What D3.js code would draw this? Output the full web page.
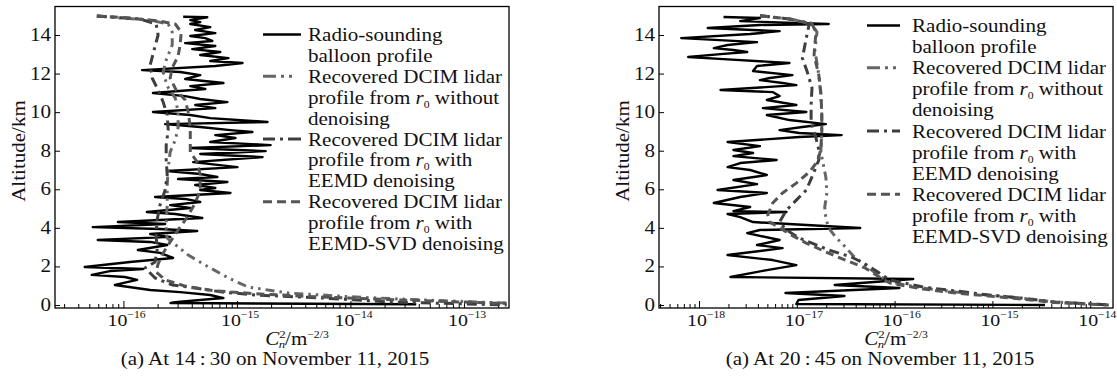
<!DOCTYPE html>
<html>
<head>
<meta charset="utf-8">
<script src="https://cdn.jsdelivr.net/npm/d3@7"></script>
<style>
  body { margin: 0; background: #fff; }
  svg { display: block; font-family: "Liberation Serif", "Times New Roman", serif; }
</style>
</head>
<body>
<div id="chart"></div>
<script>
// [altitude km, Cn2 m^-2/3]

// panel (a) 14:30
const balloonA = [[14.95,3.36e-16],[14.92,5.48e-16],[14.77,3.88e-16],[14.67,4.75e-16],[14.57,3.88e-16],[14.41,5.82e-16],[14.26,4.29e-16],[14.10,6.45e-16],[13.95,3.88e-16],[13.84,5.26e-16],[13.69,6.07e-16],[13.58,3.50e-16],[13.43,6.45e-16],[13.27,4.04e-16],[13.12,7.14e-16],[12.96,4.75e-16],[12.80,8.41e-16],[12.65,5.82e-16],[12.55,1.12e-15],[12.39,6.45e-16],[12.18,1.46e-16],[12.08,3.16e-16],[11.92,4.75e-16],[11.72,3.50e-16],[11.51,7.60e-16],[11.35,3.88e-16],[11.20,5.26e-16],[10.99,1.82e-16],[10.83,3.50e-16],[10.68,4.75e-16],[10.52,8.24e-16],[10.37,4.29e-16],[10.21,6.45e-16],[10.01,1.82e-16],[9.85,3.88e-16],[9.69,5.82e-16],[9.49,1.86e-15],[9.38,2.33e-16],[9.23,4.75e-16],[9.07,8.76e-16],[8.97,1.37e-15],[8.81,6.45e-16],[8.66,9.70e-16],[8.45,5.82e-16],[8.29,1.98e-15],[8.14,3.88e-16],[7.98,1.79e-15],[7.83,4.75e-16],[7.67,1.68e-15],[7.41,4.12e-16],[7.15,1.01e-15],[6.95,2.43e-16],[6.79,4.75e-16],[6.64,6.72e-16],[6.53,3.03e-16],[6.38,8.24e-16],[6.22,4.29e-16],[6.07,6.45e-16],[5.96,4.75e-16],[5.81,8.76e-16],[5.60,1.90e-16],[5.50,3.50e-16],[5.34,4.75e-16],[5.18,2.58e-16],[5.03,3.88e-16],[4.82,1.61e-16],[4.72,2.86e-16],[4.51,4.95e-16],[4.30,8.94e-17],[4.20,2.33e-16],[4.04,5.37e-17],[3.94,2.10e-16],[3.84,4.47e-16],[3.68,1.72e-16],[3.53,2.58e-16],[3.37,5.94e-17],[3.27,1.72e-16],[3.11,2.43e-16],[2.85,1.34e-16],[2.70,2.10e-16],[2.44,2.74e-16],[2.23,1.14e-16],[1.97,4.56e-17],[1.87,1.49e-16],[1.76,7.60e-17],[1.56,5.26e-17],[1.45,1.03e-16],[1.30,1.32e-16],[1.04,8.41e-17],[0.78,1.72e-16],[0.67,3.16e-16],[0.52,5.82e-16],[0.36,7.60e-16],[0.16,3.00e-16],[0.10,2.60e-16],[0.04,3.80e-14]];
const rawA = [[14.98,5.83e-17],[14.77,1.72e-16],[14.57,2.48e-16],[14.15,2.69e-16],[13.48,2.69e-16],[12.70,2.38e-16],[12.08,2.24e-16],[11.35,2.43e-16],[10.73,2.86e-16],[10.01,3.03e-16],[9.18,3.03e-16],[8.55,2.86e-16],[7.93,2.58e-16],[7.10,2.48e-16],[6.22,2.43e-16],[5.18,2.43e-16],[4.30,2.38e-16],[3.73,2.38e-16],[3.47,2.43e-16],[2.59,3.72e-16],[2.07,5.26e-16],[1.40,8.41e-16],[0.93,1.26e-15],[0.62,2.86e-15],[0.41,1.12e-14],[0.26,4.39e-14],[0.10,2.38e-13]];
const eemdA = [[14.98,5.83e-17],[14.83,1.40e-16],[14.57,1.94e-16],[14.00,2.02e-16],[13.22,1.86e-16],[12.44,1.72e-16],[11.77,1.79e-16],[11.15,2.02e-16],[10.52,2.24e-16],[9.85,2.43e-16],[9.07,2.48e-16],[8.29,2.38e-16],[7.52,2.38e-16],[6.74,2.43e-16],[5.96,2.33e-16],[5.18,2.10e-16],[4.41,1.98e-16],[3.63,1.94e-16],[2.85,1.98e-16],[2.23,1.90e-16],[1.92,1.55e-16],[1.40,1.90e-16],[1.04,2.69e-16],[0.88,4.29e-16],[0.67,7.44e-16],[0.52,1.46e-15],[0.36,5.71e-15],[0.16,2.19e-14],[0.0,2.38e-13]];
const svdA = [[14.98,5.83e-17],[14.88,1.14e-16],[14.72,2.10e-16],[14.57,2.86e-16],[14.15,3.23e-16],[13.48,3.16e-16],[12.91,3.03e-16],[12.29,2.69e-16],[11.77,2.58e-16],[11.15,2.91e-16],[10.63,3.50e-16],[10.01,3.72e-16],[9.18,3.88e-16],[8.45,3.88e-16],[7.93,3.88e-16],[7.41,4.47e-16],[6.74,4.75e-16],[5.96,4.75e-16],[5.29,4.29e-16],[4.56,3.65e-16],[3.89,3.03e-16],[3.27,2.58e-16],[2.70,2.24e-16],[2.13,2.02e-16],[1.71,1.94e-16],[1.30,2.33e-16],[0.98,3.50e-16],[0.73,6.45e-16],[0.57,1.61e-15],[0.41,5.71e-15],[0.26,2.80e-14],[0.08,2.38e-13]];

// panel (b) 20:45
const balloonB = [[14.93,1.78e-18],[14.88,4.20e-18],[14.72,2.64e-18],[14.57,2.12e-17],[14.52,4.20e-18],[14.36,1.23e-18],[14.20,6.67e-18],[14.05,3.33e-18],[13.84,6.59e-19],[13.63,3.92e-18],[13.48,1.96e-18],[13.32,1.42e-18],[13.22,2.25e-18],[13.12,3.11e-18],[13.01,1.66e-18],[12.86,7.75e-19],[12.75,1.78e-18],[12.55,8.41e-18],[12.39,3.92e-18],[12.13,3.57e-18],[11.92,9.01e-18],[11.77,5.29e-18],[11.66,4.20e-18],[11.51,7.15e-18],[11.40,9.89e-18],[11.15,1.66e-18],[11.04,5.67e-18],[10.83,6.67e-18],[10.63,4.94e-18],[10.37,9.89e-18],[10.21,4.50e-18],[10.01,1.25e-17],[9.85,4.94e-18],[9.59,8.41e-18],[9.38,1.98e-17],[9.23,1.14e-17],[9.07,6.67e-18],[8.92,1.06e-17],[8.81,2.87e-17],[8.71,1.06e-17],[8.45,1.96e-18],[8.24,4.20e-18],[8.04,2.25e-18],[7.88,3.57e-18],[7.72,2.25e-18],[7.52,6.22e-18],[7.36,2.64e-18],[7.15,1.96e-18],[7.00,3.33e-18],[6.74,4.94e-18],[6.48,2.25e-18],[6.27,3.92e-18],[5.96,1.55e-18],[5.81,4.94e-18],[5.60,2.64e-18],[5.29,1.42e-18],[5.08,3.33e-18],[4.87,2.25e-18],[4.82,7.84e-18],[4.72,1.96e-18],[4.56,2.64e-18],[4.30,3.57e-18],[3.99,4.45e-17],[3.89,4.20e-18],[3.73,3.11e-18],[3.37,6.67e-18],[3.11,3.92e-18],[2.95,7.15e-18],[2.59,1.96e-18],[2.33,5.67e-18],[2.07,9.89e-18],[1.81,4.94e-18],[1.45,2.10e-18],[1.35,1.55e-16],[1.04,2.44e-17],[0.88,1.12e-16],[0.62,7.66e-18],[0.47,3.07e-17],[0.26,1.04e-17],[0.05,9.89e-18],[0.0,3.45e-15]];
const rawB = [[15.0,4.20e-18],[14.83,8.41e-18],[14.62,1.40e-17],[14.15,1.61e-17],[13.22,1.53e-17],[11.92,1.68e-17],[10.89,1.76e-17],[9.85,1.80e-17],[8.81,1.80e-17],[7.93,1.76e-17],[6.64,1.98e-17],[5.81,2.03e-17],[5.08,1.93e-17],[4.51,1.98e-17],[3.99,2.12e-17],[3.53,2.49e-17],[3.01,3.14e-17],[2.54,3.78e-17],[2.07,4.99e-17],[1.56,6.74e-17],[1.19,8.91e-17],[0.88,1.95e-16],[0.67,4.20e-16],[0.52,9.02e-16],[0.36,1.98e-15],[0.16,4.25e-15],[0.0,1.55e-14]];
const eemdB = [[15.0,4.20e-18],[14.83,8.41e-18],[14.57,1.34e-17],[13.84,1.25e-17],[12.80,1.14e-17],[12.08,1.28e-17],[11.25,1.43e-17],[10.37,1.40e-17],[9.49,1.40e-17],[8.66,1.57e-17],[8.04,1.68e-17],[7.52,1.68e-17],[6.64,1.43e-17],[5.96,1.25e-17],[5.44,9.89e-18],[4.92,7.84e-18],[4.30,6.67e-18],[3.89,7.84e-18],[3.47,1.06e-17],[3.21,1.43e-17],[2.85,2.12e-17],[2.49,3.61e-17],[2.13,4.99e-17],[1.71,6.74e-17],[1.30,8.91e-17],[0.93,1.95e-16],[0.73,4.20e-16],[0.52,9.02e-16],[0.36,1.98e-15],[0.16,4.25e-15],[0.0,1.55e-14]];
const svdB = [[15.0,4.20e-18],[14.83,8.41e-18],[14.57,1.43e-17],[14.15,1.57e-17],[12.96,1.50e-17],[11.92,1.68e-17],[11.04,1.76e-17],[10.01,1.80e-17],[8.97,1.80e-17],[8.04,1.76e-17],[7.41,1.61e-17],[6.89,1.34e-17],[6.32,9.89e-18],[5.81,7.15e-18],[5.29,5.67e-18],[4.67,5.05e-18],[4.30,5.29e-18],[4.10,6.22e-18],[3.68,8.41e-18],[3.21,1.25e-17],[2.75,1.98e-17],[2.33,3.14e-17],[1.92,4.99e-17],[1.50,6.74e-17],[1.14,8.91e-17],[0.83,1.95e-16],[0.62,4.20e-16],[0.47,9.02e-16],[0.31,1.98e-15],[0.13,4.25e-15],[0.0,1.55e-14]];

const altitudeTicks = [0, 2, 4, 6, 8, 10, 12, 14];
const decadesA = [-16, -15, -14, -13];
const decadesB = [-18, -17, -16, -15, -14];
const captions = ["(a) At 14\u2009:\u200930 on November 11, 2015", "(a) At 20\u2009:\u200945 on November 11, 2015"];
const legendLabels = [
  ["Radio-sounding", "balloon profile"],
  ["Recovered DCIM lidar", "profile from {r0} without", "denoising"],
  ["Recovered DCIM lidar", "profile from {r0} with", "EEMD denoising"],
  ["Recovered DCIM lidar", "profile from {r0} with", "EEMD-SVD denoising"]
];

const W = 1117, H = 385;
const SX = 1.17; // the serif face in the figure is wider than Times
const styles = [
  {color: "#000", width: 2.4, dash: null, legendDash: null},
  {color: "#666", width: 3, dash: "9,5,2.5,5,2.5,5", legendDash: "13,5,3,5,3,20"},
  {color: "#3e3e3e", width: 3, dash: "10,5,3,5", legendDash: "12,5,3,5,14"},
  {color: "#555", width: 3, dash: "8,5", legendDash: "9,5"}
];

const panels = [
  {box: [55, 6.5, 509, 308], logDomain: [-16.603, -12.603], decades: decadesA, labelOffset: -16,
   series: [balloonA, rawA, eemdA, svdA], caption: captions[0],
   legend: {x0: 263, x1: 301, tx: 308, y0: 41, dy: 20.9},
   xLabelX: 297, captionX: 275, yLabelX: 25},
  {box: [659, 6.5, 1113, 308], logDomain: [-18.409, -13.767], decades: decadesB, labelOffset: -12,
   series: [balloonB, rawB, eemdB, svdB], caption: captions[1],
   legend: {x0: 867, x1: 900, tx: 912, y0: 32, dy: 21.1},
   xLabelX: 896, captionX: 880, yLabelX: 629}
];

const svg = d3.select("#chart").append("svg")
  .attr("width", W)
  .attr("height", H);

// text in a horizontally stretched group
function addText(parent, x, y, parts, opt = {}) {
  const g = parent.append("g")
    .attr("transform", `translate(${x},${y})` + (opt.rotate ? ` rotate(${opt.rotate})` : "") + ` scale(${SX},1)`);
  const t = g.append("text")
    .attr("text-anchor", opt.anchor || "start")
    .attr("font-size", opt.size || 18)
    .attr("fill", "#111");
  parts.forEach(p => {
    if (typeof p === "string") p = {t: p};
    const s = t.append("tspan").text(p.t);
    if (p.size) s.attr("font-size", p.size);
    if (p.dy) s.attr("dy", p.dy);
    if (p.dx) s.attr("dx", p.dx);
    if (p.italic) s.attr("font-style", "italic");
  });
  return t;
}

function legendParts(line) {
  if (line.indexOf("{r0}") < 0) return [line];
  const [a, b] = line.split("{r0}");
  return [a, {t: "r", italic: true}, {t: "0", size: 10, dy: 4}, {t: b, dy: -4}];
}

panels.forEach((p, pi) => {
  const [x0, y0, x1, y1] = p.box;
  const x = d3.scaleLog()
    .domain([Math.pow(10, p.logDomain[0]), Math.pow(10, p.logDomain[1])])
    .range([x0, x1]);
  const y = d3.scaleLinear()
    .domain([-0.1556, 15.478])
    .range([y1, y0]);

  const g = svg.append("g");
  const clipId = "clip" + pi;
  g.append("clipPath").attr("id", clipId)
    .append("rect").attr("x", x0).attr("y", y0).attr("width", x1 - x0).attr("height", y1 - y0);

  // minor and major x ticks (inward)
  const minor = [];
  for (let d = Math.floor(p.logDomain[0]); d < Math.ceil(p.logDomain[1]); d++) {
    for (let k = 2; k <= 9; k++) {
      const v = k * Math.pow(10, d);
      if (v > x.domain()[0] && v < x.domain()[1]) minor.push(v);
    }
  }
  g.append("g")
    .attr("transform", "translate(0," + y1 + ")")
    .call(d3.axisBottom(x).tickValues(minor).tickSize(-4).tickFormat(""))
    .call(a => a.select(".domain").remove());
  g.append("g")
    .attr("transform", "translate(0," + y1 + ")")
    .call(d3.axisBottom(x).tickValues(p.decades.map(d => Math.pow(10, d))).tickSize(-7).tickFormat(""))
    .call(a => a.select(".domain").remove());
  g.append("g")
    .attr("transform", "translate(" + x0 + ",0)")
    .call(d3.axisLeft(y).tickValues(altitudeTicks).tickSize(-5).tickFormat(""))
    .call(a => a.select(".domain").remove());
  g.selectAll(".tick line").attr("stroke", "#000").attr("stroke-width", 1);

  // tick labels
  p.decades.forEach(d => {
    addText(g, x(Math.pow(10, d)) + p.labelOffset, 326, ["10", {t: "\u2212" + (-d), size: 10, dy: -8}], {size: 17});
  });
  altitudeTicks.forEach(a => {
    addText(g, x0 - 4, y(a) + 6, [String(a)], {anchor: "end"});
  });

  // profiles
  const line = d3.line()
    .x(d => x(d[1]))
    .y(d => y(d[0]));
  const plot = g.append("g").attr("clip-path", "url(#" + clipId + ")");
  p.series.forEach((s, i) => {
    const st = styles[i];
    plot.append("path")
      .datum(s)
      .attr("fill", "none")
      .attr("stroke", st.color)
      .attr("stroke-width", st.width)
      .attr("stroke-linejoin", "round")
      .attr("stroke-dasharray", st.dash)
      .attr("d", line);
  });

  // frame
  g.append("rect")
    .attr("x", x0).attr("y", y0)
    .attr("width", x1 - x0).attr("height", y1 - y0)
    .attr("fill", "none")
    .attr("stroke", "#000")
    .attr("stroke-width", 1.3);

  // legend
  const L = p.legend;
  let row = 0;
  legendLabels.forEach((lines, i) => {
    const st = styles[i];
    const ly = L.y0 + row * L.dy - 6.5;
    g.append("line")
      .attr("x1", L.x0).attr("x2", L.x1)
      .attr("y1", ly).attr("y2", ly)
      .attr("stroke", st.color)
      .attr("stroke-width", st.width)
      .attr("stroke-dasharray", st.legendDash);
    lines.forEach(t => {
      addText(g, L.tx, L.y0 + row * L.dy, legendParts(t));
      row++;
    });
  });

  // axis titles and caption
  addText(g, p.xLabelX, 345, [
    {t: "C", italic: true},
    {t: "2", size: 11, dy: -7},
    {t: "n", size: 11, italic: true, dx: -6, dy: 10},
    {t: "/m", dy: -3},
    {t: "\u22122/3", size: 10, dy: -7}
  ], {anchor: "middle"});
  addText(g, p.captionX, 365, [p.caption], {anchor: "middle"});
  addText(g, p.yLabelX, 151, ["Altitude/km"], {anchor: "middle", rotate: -90});
});
</script>
</body>
</html>
